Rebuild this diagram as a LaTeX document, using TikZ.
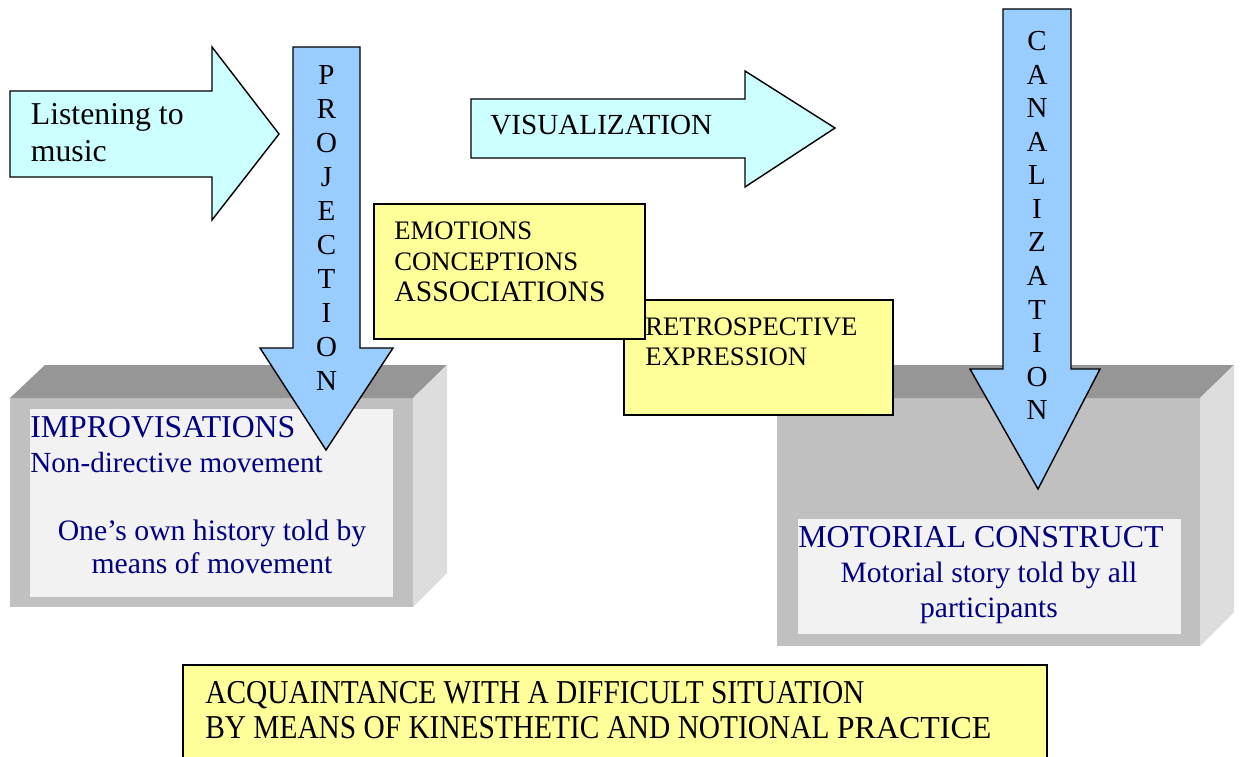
\documentclass[tikz,border=0pt]{standalone}
\usepackage{fontspec}
\setmainfont{Liberation Serif}
\newfontfamily\narrowserif[FakeStretch=0.88]{Liberation Serif}
\usepackage{tikz}

\definecolor{arrowcyan}{HTML}{CCFFFF}
\definecolor{arrowblue}{HTML}{99CCFF}
\definecolor{noteyellow}{HTML}{FFFF99}
\definecolor{boxnavy}{HTML}{000080}
\definecolor{frontgrey}{HTML}{C0C0C0}
\definecolor{topgrey}{HTML}{969696}
\definecolor{sidegrey}{HTML}{DDDDDD}
\definecolor{panelgrey}{HTML}{F2F2F2}

\begin{document}
\begin{tikzpicture}[x=0.02cm, y=-0.02cm,
    cyanarrow/.style={draw=black, line width=0.8pt, fill=arrowcyan},
    bluearrow/.style={draw=black, line width=0.8pt, fill=arrowblue},
    note/.style={draw=black, line width=0.8pt, fill=noteyellow},
    plaintext/.style={inner sep=0pt, text=black},
    boxtext/.style={inner sep=0pt, text=boxnavy},
    letters/.style={inner sep=0pt, align=center}]
    \useasboundingbox (0,0) rectangle (1241,757);

    % left block
    \fill[frontgrey] (10,398) rectangle (413,607);
    \fill[topgrey] (10,398) -- (45,365) -- (447,365) -- (413,398) -- cycle;
    \fill[sidegrey] (413,398) -- (447,365) -- (447,573) -- (413,607) -- cycle;
    \fill[panelgrey] (30,409) rectangle (393,597);

    % arrows on the left
    \draw[cyanarrow] (10,91) -- (212,91) -- (212,47) -- (279,134) -- (212,220) -- (212,177) -- (10,177) -- cycle;
    \draw[bluearrow] (293,47) -- (360,47) -- (360,348) -- (393,348) -- (326,450) -- (260,348) -- (293,348) -- cycle;

    % right block
    \fill[frontgrey] (777,398) rectangle (1200,646);
    \fill[topgrey] (777,398) -- (811,365) -- (1234,365) -- (1200,398) -- cycle;
    \fill[sidegrey] (1200,398) -- (1234,365) -- (1234,612) -- (1200,646) -- cycle;
    \fill[panelgrey] (798,519) rectangle (1181,634);

    % yellow notes
    \draw[note] (624,300) rectangle (893,415);
    \draw[note] (374,204) rectangle (645,339);

    % arrows on the right
    \draw[cyanarrow] (471,99) -- (745,99) -- (745,71) -- (835,128) -- (745,187) -- (745,158) -- (471,158) -- cycle;
    \draw[bluearrow] (1003,9) -- (1071,9) -- (1071,369) -- (1100,369) -- (1038,489) -- (970,369) -- (1003,369) -- cycle;

    % bottom note
    \fill[noteyellow] (183,665) rectangle (1047,757);
    \draw[line width=0.8pt] (183,757) -- (183,665) -- (1047,665) -- (1047,757);

    % texts
    \node[plaintext, anchor=north west, align=left, font=\fontsize{18.1}{21.1}\selectfont] (listen) at (30.5,103) {Listening to\\music};
    \node[plaintext, anchor=base west, font=\fontsize{16.6}{19}\selectfont] (visual) at (490,134) {VISUALIZATION};
    \node[letters, anchor=north, font=\fontsize{16.5}{19.35}\selectfont] (proj) at (326.5,65) {P\\R\\O\\J\\E\\C\\T\\I\\O\\N};
    \node[letters, anchor=north, font=\fontsize{16.5}{19.1}\selectfont] (canal) at (1037,31) {C\\A\\N\\A\\L\\I\\Z\\A\\T\\I\\O\\N};
    \node[plaintext, anchor=north west, align=left, font=\fontsize{15.2}{17.9}\selectfont] (emo) at (394,221) {EMOTIONS\\CONCEPTIONS\\{\fontsize{16.9}{17.9}\selectfont ASSOCIATIONS}};
    \node[plaintext, anchor=north west, align=left, font=\fontsize{15.2}{17.6}\selectfont] (retro) at (645,317) {RETROSPECTIVE\\EXPRESSION};
    \node[boxtext, anchor=base west, font=\fontsize{18.1}{20}\selectfont] (impro) at (30,437) {IMPROVISATIONS};
    \node[boxtext, anchor=base west, font=\fontsize{16.6}{19}\selectfont] (nondir) at (30,472) {Non-directive movement};
    \node[boxtext, anchor=north, align=center, font=\fontsize{16.9}{18.8}\selectfont] (history) at (212,520) {One’s own history told by\\means of movement};
    \node[boxtext, anchor=base west, font=\fontsize{18.15}{20}\selectfont] (motor) at (798,547) {MOTORIAL CONSTRUCT};
    \node[boxtext, anchor=north, align=center, font=\fontsize{16.8}{19.9}\selectfont] (story) at (989,562) {Motorial story told by all\\participants};
    \node[plaintext, anchor=north west, align=left, font=\narrowserif\fontsize{19}{19.9}\selectfont] (practice) at (205,681) {ACQUAINTANCE WITH A DIFFICULT SITUATION\\BY MEANS OF KINESTHETIC AND NOTIONAL {\rmfamily\fontsize{18.2}{19.9}\selectfont PRACTICE}};
\end{tikzpicture}
\end{document}
